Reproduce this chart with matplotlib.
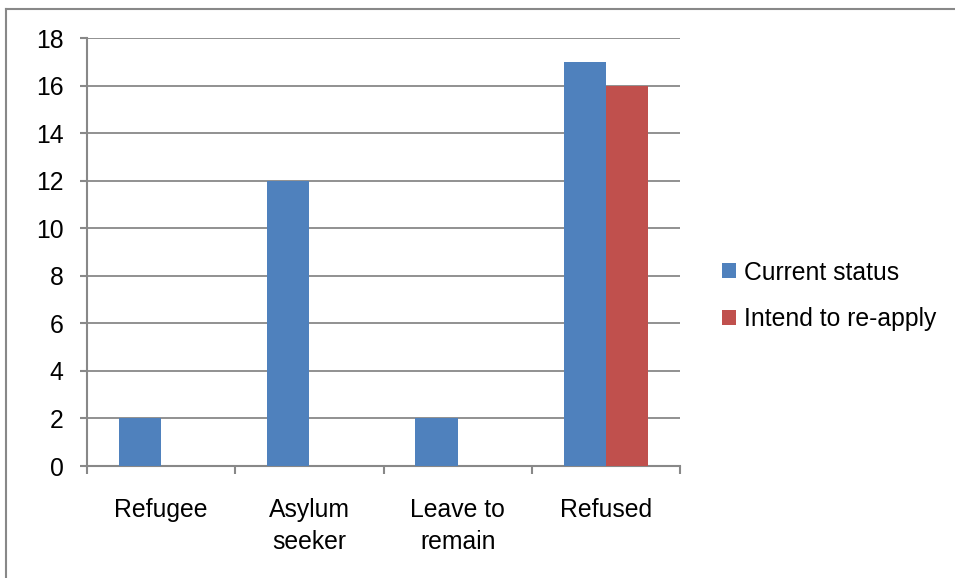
import numpy as np
import matplotlib.pyplot as plt
from matplotlib.lines import Line2D

plt.rcParams['font.family'] = ['Liberation Sans', 'DejaVu Sans']

categories = ['Refugee', 'Asylum\nseeker', 'Leave to\nremain', 'Refused']
current_status = [2, 12, 2, 17]
intend_reapply = [0, 0, 0, 16]
series_names = ['Current status', 'Intend to re-apply']

blue = '#4F81BD'
red = '#C0504D'
grey = '#888888'
fs = 17.8

fig = plt.figure(figsize=(9.55, 5.78), dpi=100)
ax = fig.add_axes([87/955, 1-466/578, (680-87)/955, (466-38)/578])

x = np.arange(len(categories)) + 0.5
w = 0.285
ax.bar(x - w/2, current_status, w, color=blue, label=series_names[0], zorder=3)
ax.bar(x + w/2, intend_reapply, w, color=red, label=series_names[1], zorder=3)

ax.set_xlim(0, 4)
ax.set_ylim(0, 18)
ax.set_yticks(np.arange(0, 19, 2))
ax.yaxis.grid(True, color=grey, linewidth=1.3, zorder=0)
ax.set_axisbelow(True)

for s in ['top', 'right']:
    ax.spines[s].set_visible(False)
for s in ['left', 'bottom']:
    ax.spines[s].set_color(grey)
    ax.spines[s].set_linewidth(1.5)

ax.set_xticks(x)
ax.set_xticklabels(categories, linespacing=1.42, va='top')
ax.set_xticks(np.arange(0, 5), minor=True)
ax.tick_params(axis='x', which='major', length=0, pad=23, labelsize=fs)
ax.tick_params(axis='x', which='minor', length=6, width=1.5, color=grey)
ax.tick_params(axis='y', length=5, width=1.5, color=grey, pad=12, labelsize=fs)

ax.legend(loc='center left', bbox_to_anchor=(722/955, 1-296/578),
          bbox_transform=fig.transFigure, frameon=False, fontsize=fs,
          handlelength=0.58, handleheight=0.58, handletextpad=0.3,
          labelspacing=0.93, borderpad=0, borderaxespad=0)

# outer chart border (only left and top are visible in the frame)
fig.add_artist(Line2D([6/955, 6/955], [0, 1-9/578], color=grey, linewidth=1.5,
                      transform=fig.transFigure))
fig.add_artist(Line2D([6/955, 1], [1-9/578, 1-9/578], color=grey, linewidth=1.5,
                      transform=fig.transFigure))

fig.savefig('out.png', dpi=100)
